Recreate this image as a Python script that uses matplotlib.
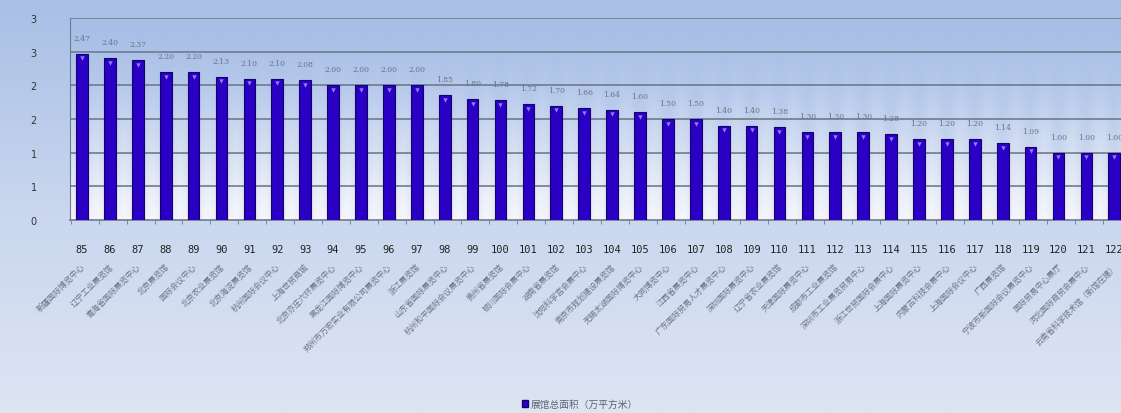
import numpy as np
import matplotlib
matplotlib.use('Agg')
from matplotlib import pyplot as plt
from matplotlib.colors import LinearSegmentedColormap
from matplotlib.patches import Patch

plt.rcParams['font.family'] = ['Noto Sans CJK SC', 'DejaVu Sans']

# data
ranks = list(range(85, 123))
names = ['新疆国际博览中心', '辽宁工业展览馆', '青海省国际展览中心', '北京展览馆',
         '国际会议中心', '北京农业展览馆', '北京海淀展览馆', '杭州国际会议中心',
         '上海世贸商城', '北京亦庄六环展览中心', '黑龙江国际博览中心',
         '郑州市万宏实业有限公司展览中心', '浙江展览馆', '山东省国际展览中心',
         '杭州和平国际会议展览中心', '贵州省展览馆', '银川国际会展中心', '湖南省展览馆',
         '沈阳科学宫会展中心', '南京市规划建设展览馆', '无锡太湖国际博览中心',
         '大同博览中心', '江西省展览中心', '广东国际贸易人才展览中心', '深圳国际展览中心',
         '辽宁省农业展览馆', '天津国际展览中心', '成都市工业展览馆',
         '深圳市工业展览贸易中心', '浙江世贸国际会展中心', '上海国际展览中心',
         '内蒙古科技会展中心', '上海国际会议中心', '广西展览馆',
         '宁波市新国际会议展览中心', '国际贸易中心展厅', '河北国际商贸会展中心',
         '云南省科学技术馆（新馆在建）']
area = [2.47, 2.40, 2.37, 2.20, 2.20, 2.13, 2.10, 2.10, 2.08, 2.00, 2.00, 2.00,
        2.00, 1.85, 1.80, 1.78, 1.72, 1.70, 1.66, 1.64, 1.60, 1.50, 1.50, 1.40,
        1.40, 1.38, 1.30, 1.30, 1.30, 1.28, 1.20, 1.20, 1.20, 1.14, 1.09, 1.00,
        1.00, 1.00]
y_ticks = [0, 0.5, 1, 1.5, 2, 2.5, 3]
y_tick_labels = ['0', '1', '1', '2', '2', '3', '3']
legend_label = '展馆总面积（万平方米）'

W, H = 1121, 414
fig = plt.figure(figsize=(W / 100., H / 100.), dpi=100)

# figure background gradient
bg = fig.add_axes([0, 0, 1, 1], zorder=-5)
cm_bg = LinearSegmentedColormap.from_list('bg', ['#a8bfe6', '#c9d6ee', '#dde5f3'])
bg.imshow(np.linspace(0, 1, 256).reshape(-1, 1), cmap=cm_bg, aspect='auto',
          extent=[0, 1, 0, 1], origin='upper')
bg.axis('off')

left, right, top, bottom = 70, 1121, 19, 221
ax = fig.add_axes([left / W, 1 - bottom / H, (right - left) / W, (bottom - top) / H])
ax.patch.set_alpha(0)

x = np.arange(len(area))
xmin, xmax = -0.43, -0.43 + (right - left) / 27.9

# plot area gradient (vertical, with lighter bands between bars)
cm_pa = LinearSegmentedColormap.from_list('pa', ['#a6bde6', '#b2c6ea', '#c9d6ee', '#e6eaf4'])
ny, nx = 200, 1200
vert = np.linspace(0, 1, ny).reshape(-1, 1)
xs = np.linspace(xmin, xmax, nx)
band = 0.5 + 0.5 * np.cos(2 * np.pi * (xs - 0.5))
img = cm_pa(vert * np.ones((1, nx)))
light = (vert ** 2) * band.reshape(1, -1) * 0.6
img[..., :3] = img[..., :3] * (1 - light[..., None]) + light[..., None] * 1.0
ax.imshow(img, aspect='auto', extent=[xmin, xmax, 0, 3], origin='upper', zorder=0)

for yv in y_ticks[1:]:
    ax.axhline(yv, color='#6f7b8c', lw=1.2, zorder=1)

ax.bar(x, area, width=0.42, color='#2a00c4', edgecolor='#15006e', lw=0.8, zorder=3)
ax.scatter(x, np.array(area) - 0.07, marker='v', s=10, color='#8d80f2', zorder=4, lw=0)

for xi, v in zip(x, area):
    ax.annotate('%.2f' % v, (xi, v), xytext=(0, 11.5), textcoords='offset points',
                ha='center', va='center', fontsize=5.5, color='#6a7384',
                family='DejaVu Serif', annotation_clip=False)

ax.set_xlim(xmin, xmax)
ax.set_ylim(0, 3)
ax.set_yticks(y_ticks)
ax.set_yticklabels(y_tick_labels, family='DejaVu Sans', fontsize=7, color='#333333')
ax.tick_params(axis='y', length=0, pad=24)

ax.set_xticks(x)
ax.set_xticklabels([str(r) for r in ranks], family='DejaVu Sans Mono', fontsize=7.5,
                   color='#222222')
ax.tick_params(axis='x', which='major', length=0, pad=17)
ax.set_xticks(x - 0.4, minor=True)
ax.tick_params(axis='x', which='minor', length=3, color='#6f7b8c', direction='out')

for s in ['top', 'right']:
    ax.spines[s].set_visible(False)
ax.spines['left'].set_color('#6f7b8c')
ax.spines['bottom'].set_color('#6f7b8c')
ax.spines['bottom'].set_linewidth(1.2)

tr = ax.get_xaxis_transform()
for xi, nm in zip(x, names):
    ax.text(xi + 0.05, -0.22, nm, transform=tr, rotation=45, rotation_mode='anchor',
            ha='right', va='center', fontsize=5.8, color='#6a7384', clip_on=False)

handle = Patch(facecolor='#2a00c4', edgecolor='#15006e')
fig.legend([handle], [legend_label], loc='center', bbox_to_anchor=(0.517, 0.022),
           frameon=False, fontsize=7, handlelength=0.7, handleheight=0.7,
           handletextpad=0.2, labelcolor='#5a6474')

plt.savefig('out.png', dpi=100)
